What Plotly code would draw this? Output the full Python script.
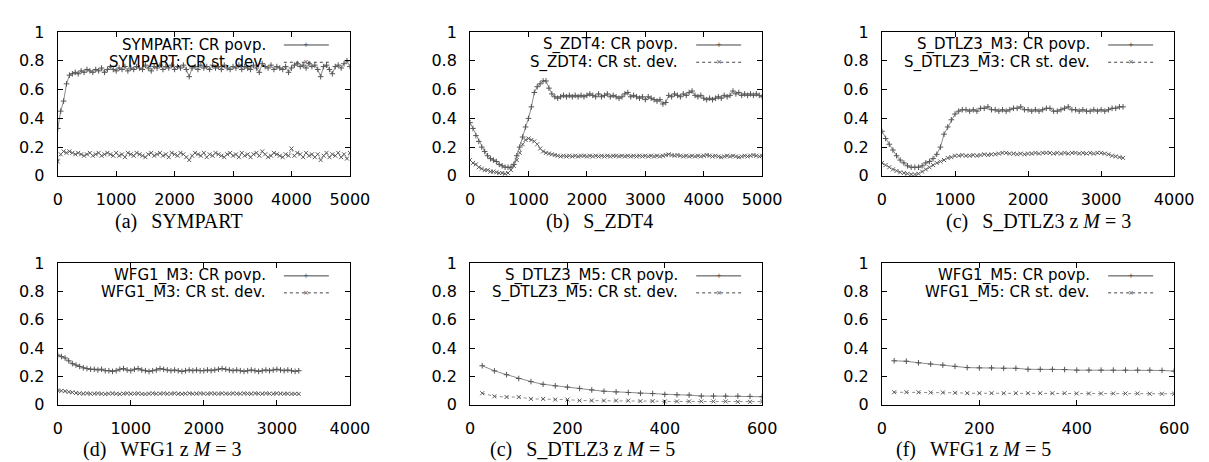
import plotly.graph_objects as go

# ---------------- data ----------------
gens_long = list(range(0, 5001, 50))
gens_mid = list(range(0, 3301, 50))
gens_short = list(range(25, 601, 25))

sympart_avg = [
    0.33, 0.45, 0.52, 0.64, 0.70, 0.71, 0.72, 0.71, 0.73, 0.72,
    0.74, 0.73, 0.72, 0.74, 0.73, 0.75, 0.72, 0.74, 0.76, 0.74,
    0.73, 0.75, 0.74, 0.76, 0.73, 0.75, 0.74, 0.76, 0.75, 0.74,
    0.77, 0.75, 0.73, 0.76, 0.75, 0.77, 0.74, 0.76, 0.75, 0.77,
    0.74, 0.76, 0.75, 0.77, 0.74, 0.69, 0.75, 0.76, 0.74, 0.77,
    0.75, 0.76, 0.74, 0.77, 0.75, 0.76, 0.74, 0.77, 0.75, 0.74,
    0.76, 0.75, 0.77, 0.74, 0.76, 0.75, 0.74, 0.77, 0.75, 0.72,
    0.78, 0.76, 0.75, 0.77, 0.74, 0.76, 0.75, 0.74, 0.76, 0.72,
    0.75, 0.77, 0.78, 0.76, 0.77, 0.75, 0.78, 0.76, 0.77, 0.74,
    0.69, 0.76, 0.77, 0.74, 0.71, 0.76, 0.77, 0.75, 0.78, 0.80,
    0.76]
sympart_std = [
    0.10, 0.15, 0.17, 0.16, 0.17, 0.16, 0.15, 0.16, 0.15, 0.14,
    0.15, 0.16, 0.14, 0.15, 0.16, 0.14, 0.15, 0.16, 0.15, 0.14,
    0.16, 0.14, 0.15, 0.13, 0.16, 0.15, 0.14, 0.16, 0.15, 0.14,
    0.13, 0.15, 0.16, 0.14, 0.15, 0.16, 0.14, 0.15, 0.13, 0.16,
    0.15, 0.14, 0.16, 0.15, 0.13, 0.11, 0.14, 0.16, 0.15, 0.14,
    0.16, 0.13, 0.15, 0.14, 0.16, 0.15, 0.14, 0.13, 0.15, 0.16,
    0.14, 0.15, 0.13, 0.16, 0.14, 0.15, 0.13, 0.15, 0.16, 0.14,
    0.17, 0.15, 0.13, 0.14, 0.16, 0.15, 0.14, 0.13, 0.15, 0.14,
    0.19, 0.14, 0.16, 0.15, 0.13, 0.16, 0.14, 0.15, 0.13, 0.15,
    0.11, 0.14, 0.16, 0.13, 0.15, 0.14, 0.16, 0.13, 0.15, 0.12,
    0.16]

zdt4_avg = [
    0.37, 0.33, 0.28, 0.24, 0.20, 0.17, 0.14, 0.12, 0.11, 0.10,
    0.08, 0.07, 0.06, 0.06, 0.06, 0.08, 0.14, 0.20, 0.27, 0.34,
    0.40, 0.48, 0.58, 0.62, 0.64, 0.66, 0.66, 0.61, 0.57, 0.55,
    0.54, 0.55, 0.56, 0.55, 0.56, 0.55, 0.56, 0.55, 0.56, 0.55,
    0.56, 0.57, 0.56, 0.55, 0.57, 0.55, 0.56, 0.57, 0.55, 0.56,
    0.55, 0.54, 0.55, 0.57, 0.58, 0.55, 0.56, 0.55, 0.54, 0.55,
    0.53, 0.55, 0.54, 0.53, 0.52, 0.53, 0.50, 0.51, 0.56, 0.55,
    0.57, 0.56, 0.55, 0.57, 0.56, 0.58, 0.59, 0.56, 0.55, 0.56,
    0.54, 0.53, 0.54, 0.53, 0.54, 0.55, 0.54, 0.56, 0.55, 0.56,
    0.59, 0.57, 0.58, 0.56, 0.57, 0.56, 0.57, 0.56, 0.57, 0.56,
    0.55]
zdt4_std = [
    0.11, 0.09, 0.08, 0.06, 0.05, 0.04, 0.04, 0.03, 0.03, 0.025,
    0.02, 0.02, 0.015, 0.02, 0.04, 0.07, 0.11, 0.16, 0.22, 0.25,
    0.26, 0.25, 0.24, 0.22, 0.19, 0.17, 0.16, 0.155, 0.15, 0.145,
    0.14, 0.135, 0.14, 0.135, 0.14, 0.135, 0.14, 0.135, 0.14, 0.14,
    0.135, 0.14, 0.135, 0.14, 0.135, 0.14, 0.135, 0.14, 0.135, 0.14,
    0.14, 0.135, 0.14, 0.135, 0.14, 0.135, 0.14, 0.135, 0.14, 0.135,
    0.14, 0.135, 0.14, 0.135, 0.14, 0.135, 0.14, 0.145, 0.15, 0.145,
    0.14, 0.145, 0.14, 0.135, 0.14, 0.135, 0.14, 0.135, 0.14, 0.135,
    0.14, 0.145, 0.14, 0.135, 0.14, 0.135, 0.13, 0.135, 0.14, 0.135,
    0.14, 0.135, 0.13, 0.135, 0.14, 0.135, 0.14, 0.145, 0.14, 0.135,
    0.14]

dtlz3m3_avg = [
    0.31, 0.26, 0.22, 0.18, 0.14, 0.11, 0.09, 0.07, 0.06, 0.06,
    0.06, 0.07, 0.09, 0.10, 0.12, 0.15, 0.20, 0.29, 0.34, 0.39,
    0.43, 0.45, 0.46, 0.46, 0.45, 0.46, 0.45, 0.47, 0.47, 0.48,
    0.46, 0.46, 0.45, 0.46, 0.45, 0.46, 0.47, 0.47, 0.48, 0.46,
    0.46, 0.45, 0.46, 0.45, 0.46, 0.47, 0.47, 0.45, 0.45, 0.46,
    0.47, 0.48, 0.46, 0.46, 0.45, 0.46, 0.45, 0.45, 0.46, 0.45,
    0.46, 0.45, 0.46, 0.47, 0.47, 0.48, 0.48]
dtlz3m3_std = [
    0.09, 0.075, 0.06, 0.045, 0.035, 0.025, 0.02, 0.015, 0.01, 0.01,
    0.015, 0.03, 0.045, 0.06, 0.075, 0.09, 0.10, 0.11, 0.125, 0.13,
    0.14, 0.14, 0.145, 0.14, 0.14, 0.145, 0.14, 0.145, 0.15, 0.145,
    0.15, 0.15, 0.155, 0.16, 0.16, 0.155, 0.155, 0.15, 0.155, 0.15,
    0.155, 0.155, 0.16, 0.155, 0.16, 0.16, 0.16, 0.155, 0.16, 0.155,
    0.16, 0.155, 0.16, 0.16, 0.155, 0.16, 0.155, 0.16, 0.155, 0.16,
    0.16, 0.155, 0.15, 0.14, 0.135, 0.13, 0.125]

wfg1m3_avg = [
    0.35, 0.34, 0.33, 0.31, 0.29, 0.28, 0.27, 0.26, 0.255, 0.25,
    0.25, 0.245, 0.25, 0.24, 0.24, 0.235, 0.24, 0.25, 0.255, 0.245,
    0.24, 0.25, 0.255, 0.245, 0.24, 0.235, 0.24, 0.245, 0.255, 0.25,
    0.245, 0.24, 0.245, 0.24, 0.235, 0.24, 0.245, 0.24, 0.245, 0.24,
    0.24, 0.245, 0.24, 0.245, 0.25, 0.255, 0.25, 0.245, 0.24, 0.245,
    0.24, 0.235, 0.24, 0.245, 0.24, 0.235, 0.24, 0.245, 0.24, 0.245,
    0.25, 0.245, 0.24, 0.245, 0.24, 0.235, 0.24]
wfg1m3_std = [
    0.10, 0.098, 0.095, 0.09, 0.087, 0.083, 0.08, 0.078, 0.08, 0.077,
    0.078, 0.08, 0.077, 0.075, 0.078, 0.08, 0.077, 0.075, 0.078, 0.08,
    0.077, 0.078, 0.08, 0.076, 0.075, 0.078, 0.08, 0.077, 0.078, 0.08,
    0.077, 0.078, 0.08, 0.077, 0.076, 0.078, 0.08, 0.077, 0.078, 0.08,
    0.078, 0.077, 0.08, 0.078, 0.077, 0.08, 0.078, 0.077, 0.08, 0.078,
    0.077, 0.08, 0.078, 0.077, 0.08, 0.078, 0.077, 0.08, 0.078, 0.077,
    0.08, 0.078, 0.077, 0.078, 0.076, 0.077, 0.076]

dtlz3m5_avg = [0.275, 0.239, 0.212, 0.185, 0.163, 0.144, 0.133, 0.124, 0.115, 0.104,
               0.095, 0.090, 0.086, 0.081, 0.079, 0.072, 0.070, 0.068, 0.061, 0.061,
               0.061, 0.061, 0.059, 0.056]
dtlz3m5_std = [0.081, 0.059, 0.054, 0.054, 0.041, 0.041, 0.036, 0.036, 0.029, 0.029,
               0.029, 0.029, 0.029, 0.025, 0.025, 0.023, 0.023, 0.023, 0.023, 0.023,
               0.023, 0.020, 0.020, 0.022]

wfg1m5_avg = [0.310, 0.307, 0.296, 0.287, 0.280, 0.271, 0.262, 0.260, 0.260, 0.257,
              0.257, 0.250, 0.250, 0.250, 0.248, 0.244, 0.244, 0.244, 0.244, 0.244,
              0.244, 0.244, 0.242, 0.237]
wfg1m5_std = [0.088, 0.088, 0.088, 0.086, 0.086, 0.084, 0.081, 0.081, 0.081, 0.081,
              0.081, 0.081, 0.081, 0.081, 0.081, 0.079, 0.079, 0.079, 0.079, 0.079,
              0.079, 0.077, 0.077, 0.077]

panel_names = ["SYMPART", "S_ZDT4", "S_DTLZ3_M3", "WFG1_M3", "S_DTLZ3_M5", "WFG1_M5"]
panel_x = [gens_long, gens_long, gens_mid, gens_mid, gens_short, gens_short]
panel_avg = [sympart_avg, zdt4_avg, dtlz3m3_avg, wfg1m3_avg, dtlz3m5_avg, wfg1m5_avg]
panel_std = [sympart_std, zdt4_std, dtlz3m3_std, wfg1m3_std, dtlz3m5_std, wfg1m5_std]
panel_xmax = [5000, 5000, 4000, 4000, 600, 600]
panel_dtick = [1000, 1000, 1000, 1000, 200, 200]
captions = ["(a)\u2002\u2009SYMPART",
            "(b)\u2002\u2009S_ZDT4",
            "(c)\u2002\u2009S_DTLZ3 z <i>M</i> = 3",
            "(d)\u2002\u2009WFG1 z <i>M</i> = 3",
            "(c)\u2002\u2009S_DTLZ3 z <i>M</i> = 5",
            "(f)\u2002\u2009WFG1 z <i>M</i> = 5"]

# ---------------- layout geometry (pixels) ----------------
W, H = 1209, 462
cols = [(45.7, 344.0), (466.7, 765.0), (887.3, 1185.7)]
rows = [(15.7, 165.7), (256.7, 404.3)]
caption_pos = [(169, 213), (599, 213), (1047, 213), (153, 451), (582, 451), (981, 451)]

def px_x(v):
    return v / W

def px_y(v):
    return 1 - v / H

SANS = "DejaVu Sans"
SERIF = "Liberation Serif"

fig = go.Figure()
layout = dict(
    width=W, height=H,
    margin=dict(l=0, r=0, t=0, b=0),
    paper_bgcolor="white", plot_bgcolor="white",
    showlegend=False,
    font=dict(family=SANS, size=16, color="black"),
)
annotations = []
shapes = []

for i in range(6):
    n = i + 1
    r, c = divmod(i, 3)
    xs = "" if n == 1 else str(n)
    x0, x1 = cols[c]
    y0, y1 = rows[r]
    fig.add_trace(go.Scatter(
        x=panel_x[i], y=panel_avg[i], mode="lines+markers",
        line=dict(color="#8c8c8c", width=1),
        marker=dict(symbol="cross-thin", size=4, line=dict(color="#555555", width=1)),
        xaxis="x" + xs, yaxis="y" + xs, name=panel_names[i] + ": CR povp."))
    fig.add_trace(go.Scatter(
        x=panel_x[i], y=panel_std[i], mode="lines+markers",
        line=dict(color="#8c8c8c", width=1, dash="dot"),
        marker=dict(symbol="x-thin", size=4, line=dict(color="#5a5a5a", width=1)),
        xaxis="x" + xs, yaxis="y" + xs, name=panel_names[i] + ": CR st. dev."))

    axcommon = dict(showline=True, linecolor="black", linewidth=1, mirror="ticks",
                    ticks="inside", ticklen=5, tickcolor="black", showgrid=False,
                    zeroline=False, ticklabelstandoff=9,
                    tickfont=dict(family=SANS, size=16, color="black"))
    layout["xaxis" + xs] = dict(axcommon, domain=[px_x(x0), px_x(x1)],
                                range=[0, panel_xmax[i]], dtick=panel_dtick[i], tick0=0,
                                anchor="y" + xs)
    layout["yaxis" + xs] = dict(axcommon, domain=[px_y(y1), px_y(y0)],
                                range=[0, 1], dtick=0.2, tick0=0, anchor="x" + xs)

    # gnuplot-style key (text right-aligned, sample on the right)
    xd = ("x" + xs) + " domain"
    yd = ("y" + xs) + " domain"
    key_rows = [(0.91, ": CR povp.", "solid", "+"), (0.79, ": CR st. dev.", "dot", "\u00d7")]
    for ky, suffix, dash, sym in key_rows:
        annotations.append(dict(text=panel_names[i] + suffix, xref=xd, yref=yd,
                                x=0.72, y=ky, xanchor="right", yanchor="middle",
                                showarrow=False, font=dict(family=SANS, size=15, color="black")))
        shapes.append(dict(type="line", xref=xd, yref=yd, x0=0.774, x1=0.928, y0=ky, y1=ky,
                           line=dict(color="#444444", width=1, dash=dash)))
        annotations.append(dict(text=sym, xref=xd, yref=yd, x=0.851, y=ky,
                                xanchor="center", yanchor="middle", showarrow=False,
                                font=dict(family=SANS, size=7, color="#444444")))

    cx, cy = caption_pos[i]
    annotations.append(dict(text=captions[i], xref="paper", yref="paper",
                            x=px_x(cx), y=px_y(cy), xanchor="center", yanchor="middle",
                            showarrow=False, font=dict(family=SERIF, size=20, color="black")))

layout["annotations"] = annotations
layout["shapes"] = shapes
fig.update_layout(**layout)
fig.write_html("out.html")
